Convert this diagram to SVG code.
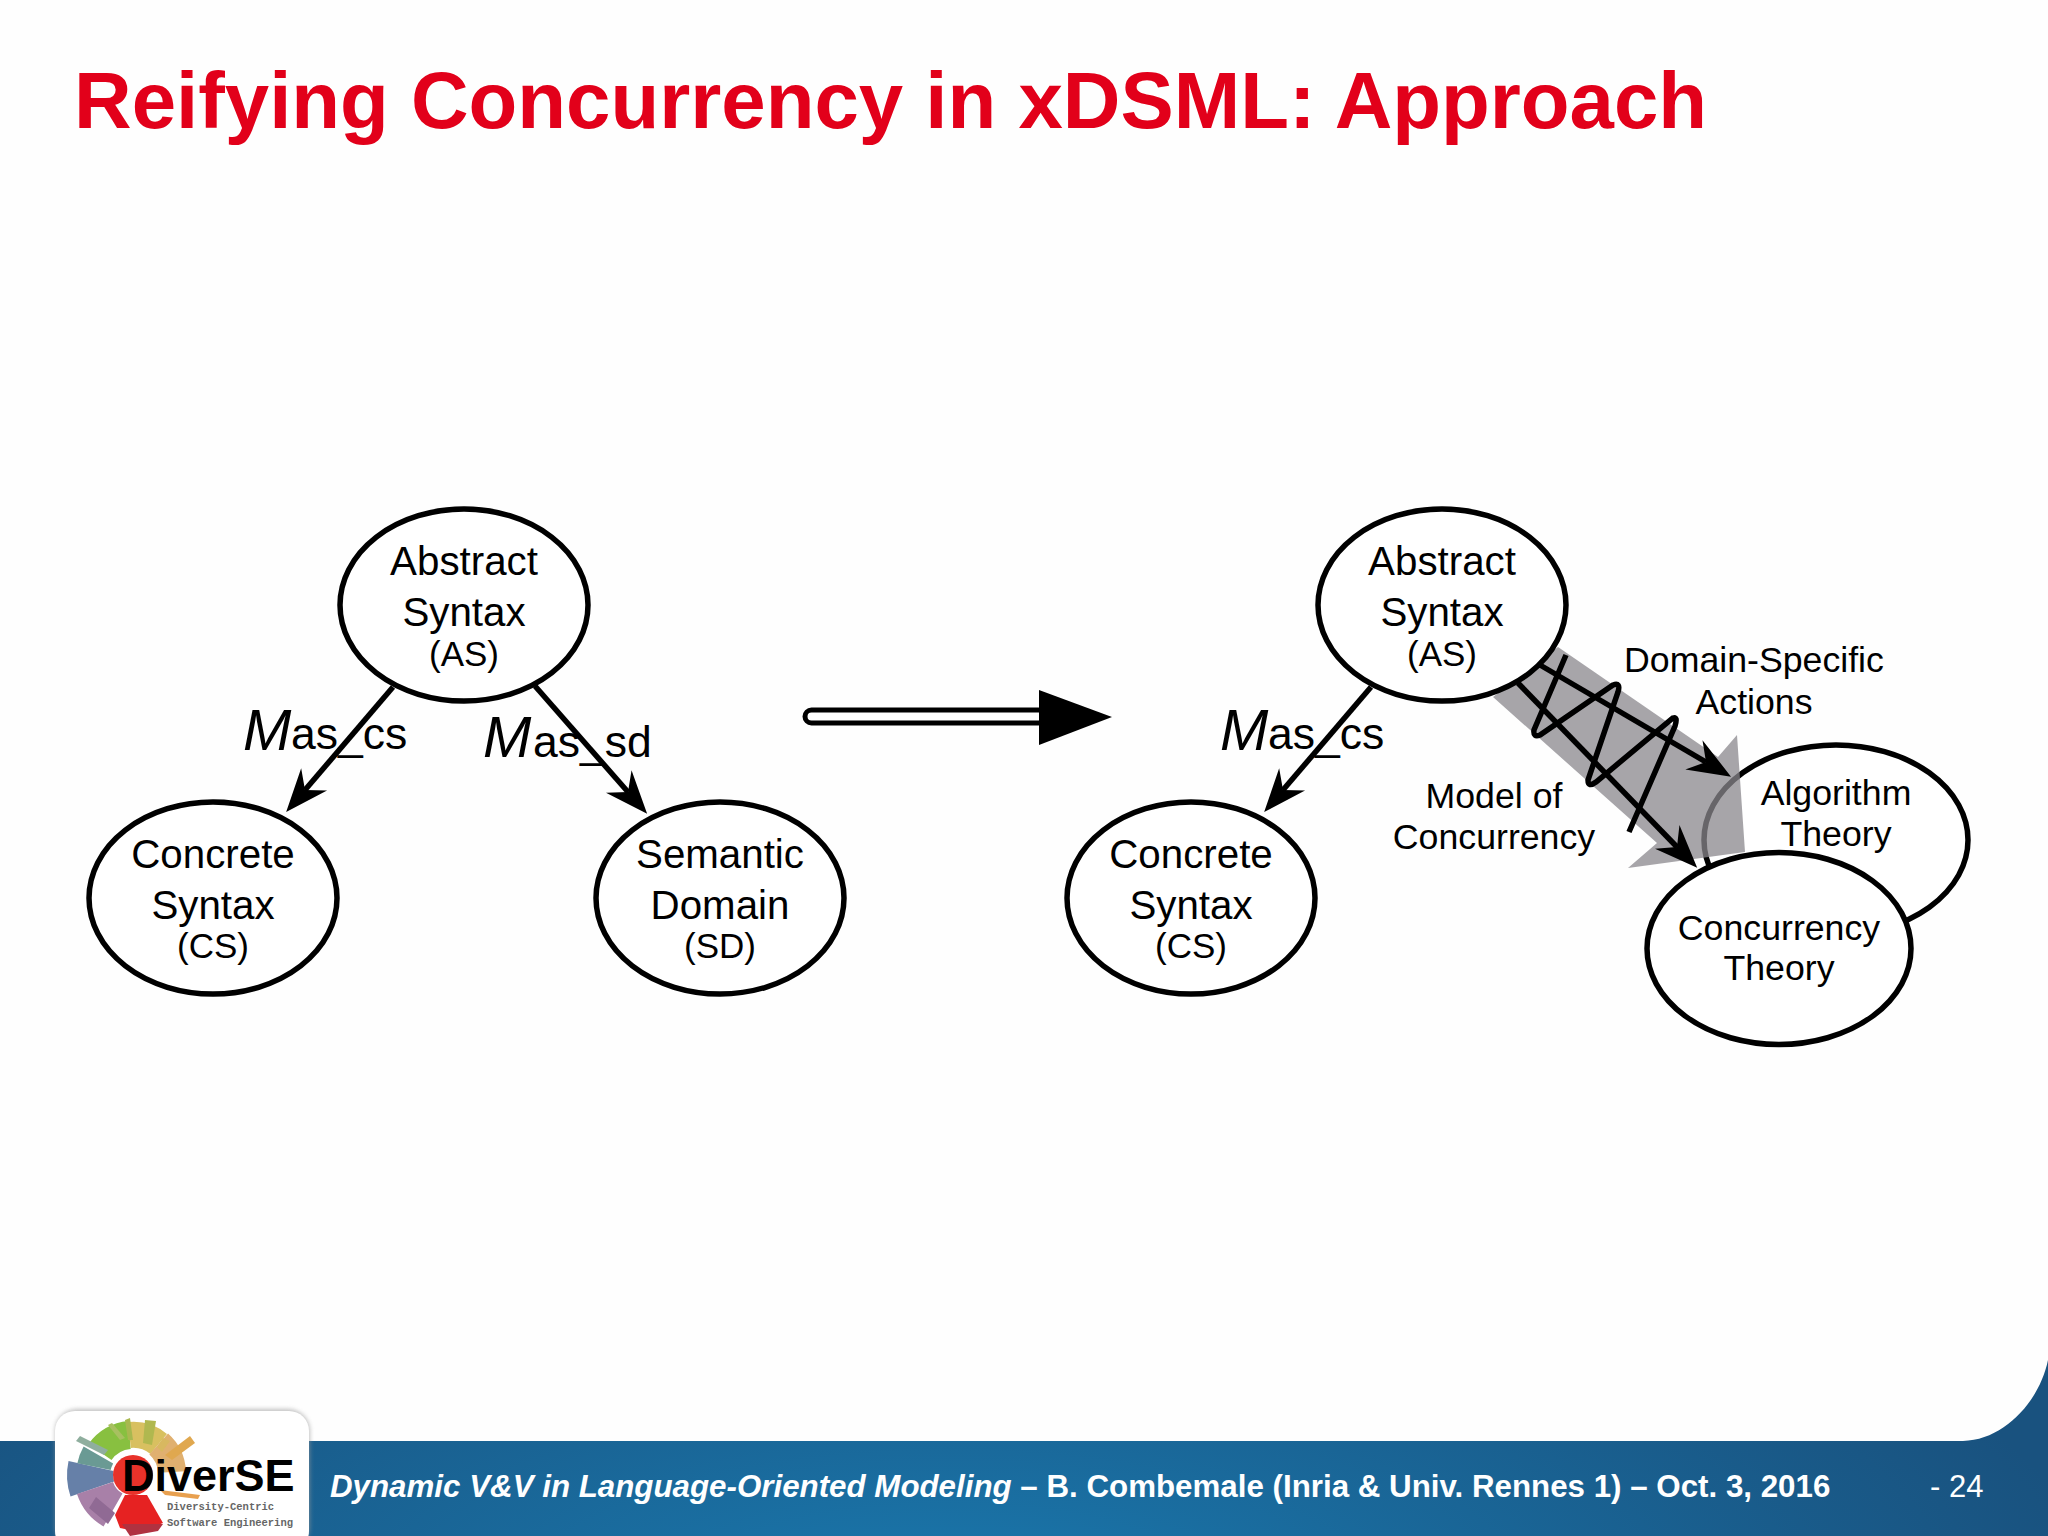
<svg xmlns="http://www.w3.org/2000/svg" width="2048" height="1536" viewBox="0 0 2048 1536">
<defs>
<marker id="ah" markerUnits="userSpaceOnUse" markerWidth="60" markerHeight="60" refX="0" refY="0" orient="auto" overflow="visible"><path d="M29,0 L-14,-17 L0,0 L-14,17 Z" fill="#000"/></marker>
<radialGradient id="foot" gradientUnits="userSpaceOnUse" cx="950" cy="1600" r="1150" gradientTransform="matrix(1 0 0 0.35 0 1040)"><stop offset="0" stop-color="#1a78ad"/><stop offset="1" stop-color="#19527f"/></radialGradient>
<filter id="soft" x="-10%" y="-10%" width="120%" height="120%"><feGaussianBlur stdDeviation="0.7"/></filter>
<filter id="shadow" x="-10%" y="-10%" width="120%" height="120%"><feGaussianBlur stdDeviation="2"/></filter>
</defs>
<style>
text{font-family:"Liberation Sans",Arial,sans-serif;fill:#000}
.n{fill:#fff;stroke:#000;stroke-width:5.5}
.t{font-size:40.3px;text-anchor:middle}
.s{font-size:35px;text-anchor:middle}
.l{font-size:35.7px;text-anchor:middle}
.m{font-size:58px;font-style:italic}
.i{font-size:44.5px}
.c{fill:none;stroke:#000;stroke-width:5.5}
.r{fill:none}
.mono{font-family:"Liberation Mono",monospace;font-size:10.5px;font-weight:bold;fill:#666}
.f{font-size:31.3px;font-weight:bold;fill:#fff}
</style>
<rect width="2048" height="1536" fill="#fefefe"/>
<text x="74" y="128" font-size="79.8" font-weight="bold" style="fill:#e2001a">Reifying Concurrency in xDSML: Approach</text>

<path id="footer-band" d="M0,1441 H1963 C2005,1440 2040,1400 2048,1360 V1536 H0 Z" fill="url(#foot)"/>
<g id="logo">
<rect x="55" y="1409" width="255" height="140" rx="22" fill="#999" filter="url(#shadow)" opacity="0.6"/>
<rect x="55" y="1411" width="254" height="140" rx="20" fill="#fff"/>
<g filter="url(#soft)">
<path class="r" d="M92.3,1489 A43,43 0 0 1 91,1466" stroke="#6680a8" stroke-width="46"/>
<path class="r" d="M94,1466.700 A40,40 0 0 1 98.400,1455" stroke="#6b9a94" stroke-width="34"/>
<path class="r" d="M100,1452 A40,40 0 0 1 129.500,1435" stroke="#88c040" stroke-width="28"/>
<path class="r" d="M129.500,1435 A40,40 0 0 1 158.700,1444" stroke="#d8c060" stroke-width="26"/>
<path class="r" d="M158.700,1444 A40,40 0 0 1 172,1472" stroke="#e0b070" stroke-width="28"/>
<path class="r" d="M113,1510 A40,40 0 0 1 95,1488" stroke="#a880a8" stroke-width="38"/>
<path d="M89,1508 L108,1524 L115,1513 L96,1497 Z" fill="#906a94"/>
<path d="M76,1441 L80,1436 L108,1450 L104,1455 Z" fill="#8fae9e"/>
<path d="M108,1425 L112,1423 L125,1438 L120,1440 Z" fill="#a8c060"/>
<path d="M125,1420 L130,1418 L133,1440 L128,1440 Z" fill="#a8b850"/>
<path d="M145,1420 L156,1421 L152,1445 L143,1443 Z" fill="#b0b850"/>
<path d="M157,1447 L163,1438 L170,1441 L162,1452 Z" fill="#d8b860"/>
<path d="M165,1455 L190,1436 L195,1443 L172,1460 Z" fill="#e0a850"/>
<path d="M160,1490 L200,1495 L198,1499 L165,1495 Z" fill="#e8a050"/>
<circle cx="133" cy="1475" r="20" fill="#e8302a"/>
<path d="M125,1495 L147,1495 L163,1523 L140,1532 L120,1528 L115,1515 Z" fill="#e62020"/>
<path d="M122,1524 L163,1524 L158,1531 L130,1536 Z" fill="#b03040"/>
</g>
<text x="122" y="1491" font-size="45" font-weight="bold">DiverSE</text>
<text x="167" y="1510" class="mono">Diversity-Centric</text>
<text x="167" y="1526" class="mono">Software Engineering</text>
</g>
<g id="footer-text">
<text x="330" y="1497" class="f"><tspan font-style="italic">Dynamic V&amp;V in Language-Oriented Modeling</tspan> – B. Combemale (Inria &amp; Univ. Rennes 1) – Oct. 3, 2016</text>
<text x="1930" y="1497" font-size="31" style="fill:#fff">- 24</text>
</g>

<g id="big-arrow">
<rect x="805" y="710" width="240" height="13" rx="6.5" fill="#fff" stroke="#000" stroke-width="5"/>
<path d="M1039,690 L1112,717 L1039,745 Z" fill="#000"/>
</g>

<g id="algorithm-theory"><ellipse class="n" cx="1836" cy="840" rx="132" ry="95"/>
<text class="l" x="1836" y="805">Algorithm</text><text class="l" x="1836" y="846">Theory</text></g>
<path id="gray-band" d="M1558,647 L1718,757 L1737,735 L1745,852 L1628,868 L1657,843 L1493,697 Z" fill="#8a878c" fill-opacity="0.75"/>

<g id="connectors">
<line class="c" x1="393" y1="687" x2="305" y2="790" marker-end="url(#ah)"/>
<line class="c" x1="535" y1="686" x2="628" y2="792" marker-end="url(#ah)"/>
<line class="c" x1="1371" y1="687" x2="1283" y2="790" marker-end="url(#ah)"/>
<line class="c" x1="1540" y1="665" x2="1706" y2="762" marker-end="url(#ah)"/>
<line class="c" x1="1518" y1="683" x2="1677" y2="847" marker-end="url(#ah)"/>
<path class="c" d="M1566,655 L1534,730 Q1533,738 1540,735 L1613,685 Q1621,682 1618,692 L1588,780 Q1588,788 1596,782 L1673,718 Q1678,716 1675,726 L1629,832"/>
</g>

<g id="labels">
<text class="m" x="243" y="750">M</text><text class="i" x="291" y="749">as_cs</text>
<text class="m" x="483" y="757">M</text><text class="i" x="533" y="757">as_sd</text>
<text class="m" x="1220" y="750">M</text><text class="i" x="1268" y="749">as_cs</text>
<text class="l" x="1754" y="672">Domain-Specific</text><text class="l" x="1754" y="714">Actions</text>
<text class="l" x="1494" y="808">Model of</text><text class="l" x="1494" y="849">Concurrency</text>
</g>

<g id="as-left"><ellipse class="n" cx="464" cy="605" rx="124" ry="96"/>
<text class="t" x="464" y="575">Abstract</text><text class="t" x="464" y="626">Syntax</text><text class="s" x="464" y="666">(AS)</text></g>
<g id="cs-left"><ellipse class="n" cx="213" cy="898" rx="124" ry="96"/>
<text class="t" x="213" y="868">Concrete</text><text class="t" x="213" y="919">Syntax</text><text class="s" x="213" y="958">(CS)</text></g>
<g id="sd-left"><ellipse class="n" cx="720" cy="898" rx="124" ry="96"/>
<text class="t" x="720" y="868">Semantic</text><text class="t" x="720" y="919">Domain</text><text class="s" x="720" y="958">(SD)</text></g>
<g id="as-right"><ellipse class="n" cx="1442" cy="605" rx="124" ry="96"/>
<text class="t" x="1442" y="575">Abstract</text><text class="t" x="1442" y="626">Syntax</text><text class="s" x="1442" y="666">(AS)</text></g>
<g id="cs-right"><ellipse class="n" cx="1191" cy="898" rx="124" ry="96"/>
<text class="t" x="1191" y="868">Concrete</text><text class="t" x="1191" y="919">Syntax</text><text class="s" x="1191" y="958">(CS)</text></g>
<g id="concurrency-theory"><ellipse class="n" cx="1779" cy="948.5" rx="132" ry="96"/>
<text class="l" x="1779" y="940">Concurrency</text><text class="l" x="1779" y="980">Theory</text></g>
</svg>
